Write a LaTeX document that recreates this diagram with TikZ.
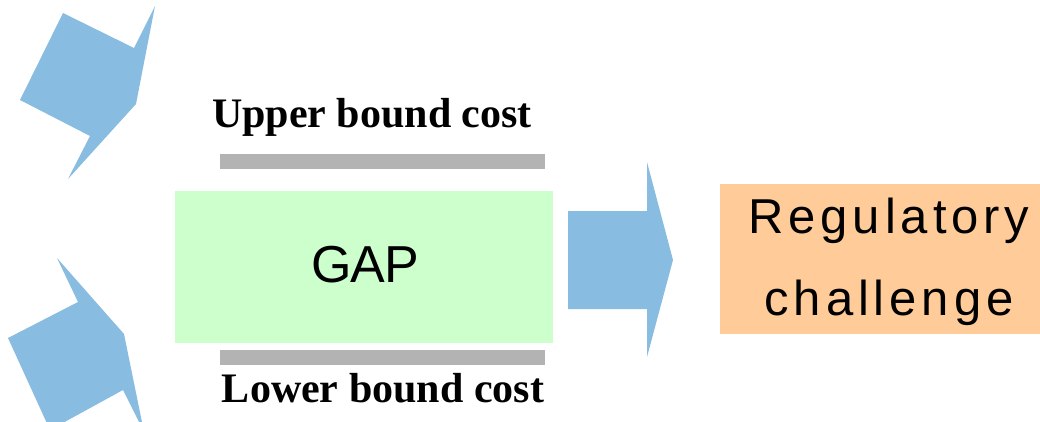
\documentclass[tikz,border=0pt]{standalone}
\usepackage{fontspec}
\setmainfont{Liberation Serif}
\newfontfamily\arialwide[LetterSpace=10]{Liberation Sans}
\newfontfamily\arialtight[LetterSpace=-2]{Liberation Sans}
\definecolor{arrowblue}{HTML}{88BCE0}
\definecolor{gapgreen}{HTML}{CCFFCC}
\definecolor{bargrey}{HTML}{B3B3B3}
\definecolor{regorange}{HTML}{FFCC99}
\begin{document}
\begin{tikzpicture}[x=1pt,y=-1pt,
  blockarrow/.style={fill=arrowblue},
  bar/.style={fill=bargrey},
  boundlabel/.style={font=\fontsize{42}{46}\selectfont\bfseries, anchor=base, inner sep=0pt},
  regline/.style={font=\arialwide\fontsize{49}{54}\selectfont, anchor=base, inner sep=0pt}]
\useasboundingbox (0,0) rectangle (1040,422);
\begin{scope}
\clip (0,0) rectangle (1040,422);
% top-left arrow
\fill[blockarrow] (63,13) -- (134,48) -- (155,6) -- (136,104) -- (68,179) -- (90,136) -- (20,100) -- cycle;
% bottom-left arrow
\fill[blockarrow] (57,258) -- (78,302) -- (8,338) -- (50,430) -- (123,390) -- (144,432) -- (124,334) -- cycle;
\end{scope}
% GAP box
\node[fill=gapgreen, minimum width=378pt, minimum height=152pt, inner sep=0pt, anchor=north west] (gap) at (175,191) {};
\node[font=\arialtight\fontsize{52}{58}\selectfont, anchor=base, inner sep=0pt] (gaptext) at (365,282) {GAP};
% bars
\node[bar, minimum width=325pt, minimum height=15pt, inner sep=0pt, anchor=north west] (upbar) at (220,154) {};
\node[bar, minimum width=325pt, minimum height=15pt, inner sep=0pt, anchor=north west] (lowbar) at (220,350) {};
% labels
\node[boundlabel] (uplabel) at (372,128) {Upper bound cost};
\node[boundlabel] (lowlabel) at (383,402) {Lower bound cost};
% right arrow
\fill[blockarrow] (568,211) -- (647,211) -- (647,162) -- (673,260) -- (647,357) -- (647,309) -- (568,309) -- cycle;
% regulatory box
\node[fill=regorange, minimum width=320pt, minimum height=150pt, inner sep=0pt, anchor=north west] (reg) at (720,184) {};
\node[regline] (reg1) at (889,233) {Regulatory};
\node[regline] (reg2) at (889,315) {challenge};
\end{tikzpicture}
\end{document}
